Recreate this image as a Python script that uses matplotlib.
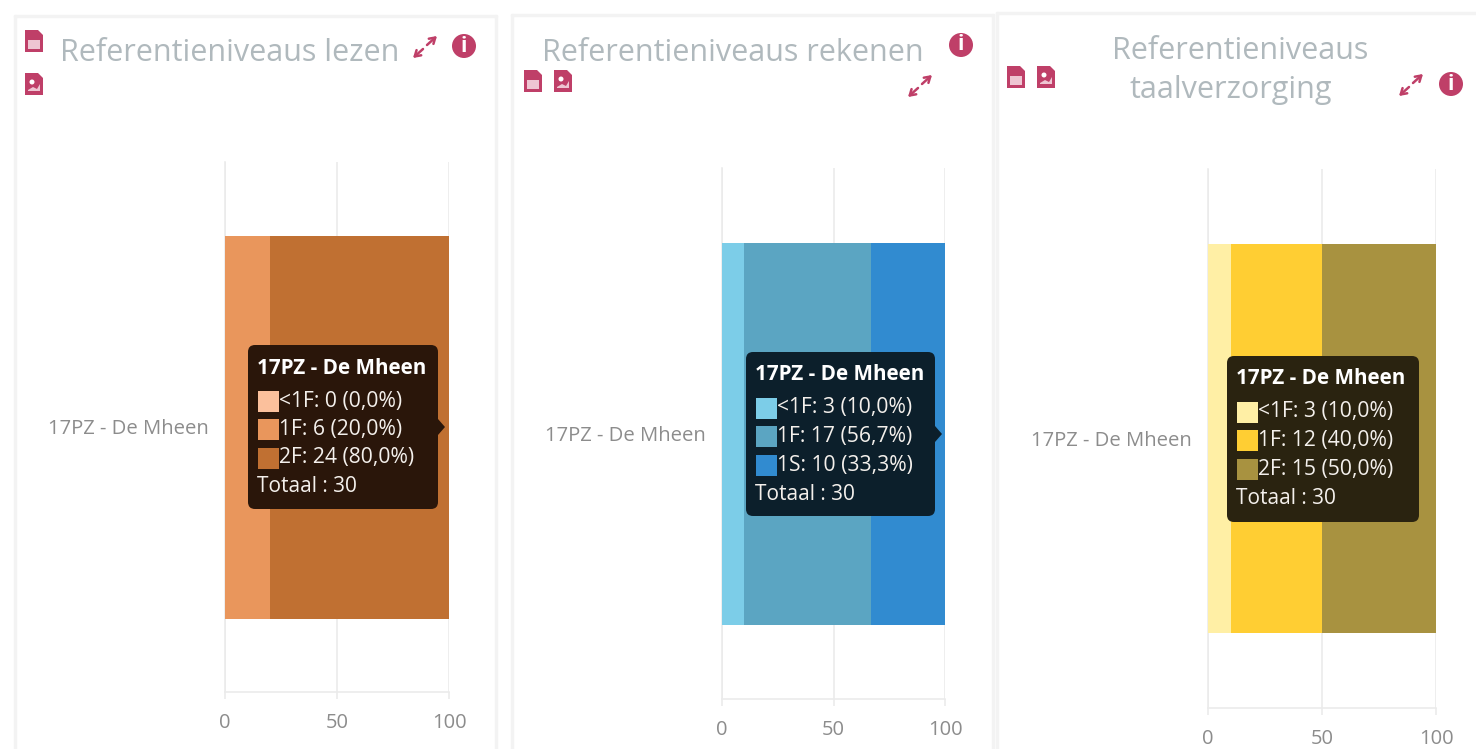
#!/usr/bin/env python3

from matplotlib import pyplot
from matplotlib.patches import Circle, FancyBboxPatch, Polygon, Rectangle

W, H = 1476, 749

school = "17PZ - De Mheen"
total = 30
ticks = [0, 50, 100]

levels_lezen = ["<1F", "1F", "2F"]
counts_lezen = [0, 6, 24]
colors_lezen = ["#fbc09c", "#e9965c", "#c07032"]

levels_rekenen = ["<1F", "1F", "1S"]
counts_rekenen = [3, 17, 10]
colors_rekenen = ["#7ccde8", "#5ba5c2", "#318bd0"]

levels_taal = ["<1F", "1F", "2F"]
counts_taal = [3, 12, 15]
colors_taal = ["#ffefa5", "#ffce33", "#a89240"]

pyplot.rcParams["font.family"] = ["Open Sans", "DejaVu Sans"]

PINK = "#bf3f68"
GRID = "#ebebeb"
TITLE = "#b0b9bd"

fig = pyplot.figure(figsize=(W / 100, H / 100), dpi=100, facecolor="white")

# overlay in pixel coords for the web page stuff (cards, icons, tooltips)
page = fig.add_axes([0, 0, 1, 1], zorder=5)
page.set_xlim(0, W)
page.set_ylim(H, 0)
page.axis("off")
page.patch.set_alpha(0)


def card(x0, x1, y0):
    for xs, ys in [([x0, x0], [y0, H]), ([x1, x1], [y0, H]), ([x0, x1], [y0, y0])]:
        page.plot(xs, ys, color="#f3f3f3", lw=2.5, solid_capstyle="round")


def file_icon(x, y, kind):
    pts = [(x - 9, y - 11), (x + 4, y - 11), (x + 9, y - 6), (x + 9, y + 11), (x - 9, y + 11)]
    page.add_patch(Polygon(pts, closed=True, fc=PINK, ec="none"))
    if kind == "table":
        page.add_patch(Rectangle((x - 6, y - 1), 12, 9, fc="#eec5d2", ec="none"))
    else:
        page.add_patch(Circle((x - 2, y - 2), 2.5, fc="white", ec="none"))
        page.add_patch(Polygon([(x - 6, y + 6), (x - 1, y + 3), (x + 3, y + 5), (x + 6, y),
                                (x + 6, y + 7), (x - 6, y + 7)], closed=True, fc="#eec5d2", ec="none"))


def expand_icon(x, y):
    # two separate arrows pointing away from the middle
    for sx, sy in [(1, -1), (-1, 1)]:
        page.annotate("", xy=(x + sx * 12, y + sy * 11), xytext=(x + sx * 2, y + sy * 2),
                      arrowprops=dict(arrowstyle="->,head_length=0.4,head_width=0.25",
                                      color=PINK, lw=1.8, shrinkA=0, shrinkB=0))


def info_icon(x, y):
    page.add_patch(Circle((x, y), 12, fc=PINK, ec="none"))
    page.text(x, y, "i", color="white", fontsize=15, fontweight="bold", ha="center", va="center")


def tooltip(x0, y0, x1, y1, bg, levels, counts, colors, arrow):
    page.add_patch(FancyBboxPatch((x0 + 7, y0 + 7), x1 - x0 - 14, y1 - y0 - 14,
                                  boxstyle="round,pad=7,rounding_size=7", fc=bg, ec="none"))
    if arrow:
        my = (y0 + y1) / 2
        page.add_patch(Polygon([(x1, my - 8), (x1 + 7, my), (x1, my + 8)], closed=True, fc=bg, ec="none"))
    page.text(x0 + 9, y0 + 23, school, color="white", fontsize=14.9, fontweight="bold", va="center")
    for i in range(len(levels)):
        y = y0 + 56 + i * 28.5
        page.add_patch(Rectangle((x0 + 10, y - 10.5), 21, 21, fc=colors[i], ec="none"))
        pct = f"{counts[i] / total * 100:.1f}".replace(".", ",")
        page.text(x0 + 31, y, f"{levels[i]}: {counts[i]} ({pct}%)", color="#f4f0ec", fontsize=15.2, va="center")
    page.text(x0 + 9, y0 + 142, f"Totaal : {total}", color="#f4f0ec", fontsize=15, va="center")


def chart(x0, x1, y0, y1, bar_h, counts, colors):
    ax = fig.add_axes([x0 / W, 1 - y1 / H, (x1 - x0) / W, (y1 - y0) / H], zorder=2)
    left = 0
    for c, col in zip(counts, colors):
        width = c / total * 100
        ax.barh([0], [width], left=left, height=bar_h / (y1 - y0) * 2, color=col, zorder=3)
        left += width
    ax.set_xlim(0, 100)
    ax.set_ylim(-1, 1)
    ax.set_xticks(ticks)
    ax.set_yticks([0])
    ax.set_yticklabels([school])
    ax.grid(axis="x", color=GRID, lw=1.2, zorder=0)
    ax.tick_params(axis="x", length=5, width=1.2, color=GRID, labelcolor="#8c8c8c", labelsize=14.5, pad=10)
    ax.tick_params(axis="y", length=0, labelcolor="#8c8c8c", labelsize=14.6, pad=12)
    for name in ["top", "right"]:
        ax.spines[name].set_visible(False)
    for name in ["left", "bottom"]:
        ax.spines[name].set_color(GRID)
        ax.spines[name].set_linewidth(1.2)


# cards
card(15, 496, 16)
card(512, 993, 15)
card(997, 1490, 13)

# lezen
chart(225, 449, 162, 692, 383, counts_lezen, colors_lezen)
page.text(230, 53, "Referentieniveaus lezen", color=TITLE, fontsize=22, ha="center", va="center")
file_icon(34, 41, "table")
file_icon(34, 84, "image")
expand_icon(425, 47)
info_icon(464, 46)
tooltip(248, 345, 438, 509, "#2a160a", levels_lezen, counts_lezen, colors_lezen, True)

# rekenen
chart(722, 945, 168, 699, 382, counts_rekenen, colors_rekenen)
page.text(733, 53, "Referentieniveaus rekenen", color=TITLE, fontsize=22, ha="center", va="center")
file_icon(533, 81, "table")
file_icon(563, 81, "image")
expand_icon(920, 86)
info_icon(961, 45)
tooltip(746, 352, 935, 516, "#0c1f2b", levels_rekenen, counts_rekenen, colors_rekenen, True)

# taalverzorging
chart(1208, 1436, 169, 708, 389, counts_taal, colors_taal)
page.text(1240, 51, "Referentieniveaus", color=TITLE, fontsize=22, ha="center", va="center")
page.text(1231, 90, "taalverzorging", color=TITLE, fontsize=22, ha="center", va="center")
file_icon(1016, 77, "table")
file_icon(1046, 77, "image")
expand_icon(1411, 85)
info_icon(1451, 84)
tooltip(1227, 356, 1419, 522, "#2a2310", levels_taal, counts_taal, colors_taal, False)

fig.savefig("out.png", dpi=100)
